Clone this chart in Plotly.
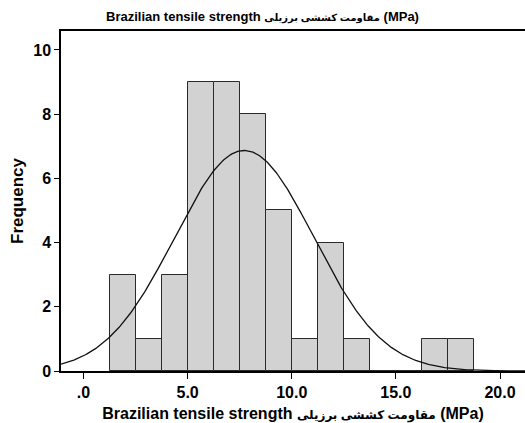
import numpy as np
import plotly.graph_objects as go

# Histogram bins (left edges) and counts
bin_left = [1.25, 2.5, 3.75, 5.0, 6.25, 7.5, 8.75, 10.0, 11.25, 12.5, 13.75, 15.0, 16.25, 17.5]
counts = [3, 1, 3, 9, 9, 8, 5, 1, 4, 1, 0, 0, 1, 1]
bin_width = 1.25

# Normal curve parameters (SPSS fitted)
mean_val = 7.72
sd_val = 3.34
n_total = sum(counts)

x_tickvals = [0, 5, 10, 15, 20]
x_ticktext = [".0", "5.0", "10.0", "15.0", "20.0"]
y_tickvals = [0, 2, 4, 6, 8, 10]

label_en = "Brazilian tensile strength"
label_fa = "مقاومت کششی برزیلی"
label_unit = "(MPa)"


def make_label(fa_size):
    return ("<b>" + label_en + " <span style='font-size:%dpx'>" % fa_size + label_fa +
            "</span> " + label_unit + "</b>")


centers = [b + bin_width / 2 for b in bin_left]

xs = np.linspace(-1.08, 21.2, 400)
ys = n_total * bin_width / (sd_val * np.sqrt(2 * np.pi)) * np.exp(-0.5 * ((xs - mean_val) / sd_val) ** 2)

font_fam = "Liberation Sans, Arial, DejaVu Sans, sans-serif"

fig = go.Figure()
fig.add_trace(go.Bar(
    x=centers, y=counts, width=bin_width,
    marker=dict(color="#d2d2d2", line=dict(color="#2a2a2a", width=1)),
    showlegend=False, hoverinfo="skip",
))
fig.add_trace(go.Scatter(
    x=xs, y=ys, mode="lines",
    line=dict(color="#111111", width=1.3),
    showlegend=False, hoverinfo="skip",
))

fig.update_layout(
    width=525, height=423,
    margin=dict(l=61, r=0, t=31, b=52),
    paper_bgcolor="white", plot_bgcolor="white",
    bargap=0,
    font=dict(family=font_fam, color="black"),
    title=dict(text=make_label(10), x=0.5, xanchor="center", y=1 - 16 / 423, yanchor="middle",
               font=dict(size=13, family=font_fam, color="black")),
)
fig.update_xaxes(
    range=[-1.08, 21.2],
    tickvals=x_tickvals, ticktext=x_ticktext,
    ticks="outside", ticklen=6, tickwidth=1.3, tickcolor="black",
    showline=True, linecolor="black", linewidth=1.5, mirror=True,
    showgrid=False, zeroline=False,
    tickfont=dict(size=16, family=font_fam, color="black", weight="bold"),
    title=dict(text=make_label(12), font=dict(size=16, family=font_fam, color="black"), standoff=8),
)
fig.update_yaxes(
    range=[0, 10.59],
    tickvals=y_tickvals,
    ticks="outside", ticklen=5, tickwidth=1.3, tickcolor="black",
    showline=True, linecolor="black", linewidth=1.5,
    showgrid=False, zeroline=False,
    tickfont=dict(size=16, family=font_fam, color="black", weight="bold"),
    title=dict(text="<b>Frequency</b>", font=dict(size=17, family=font_fam, color="black"), standoff=5),
)

fig.write_html("out.html")
